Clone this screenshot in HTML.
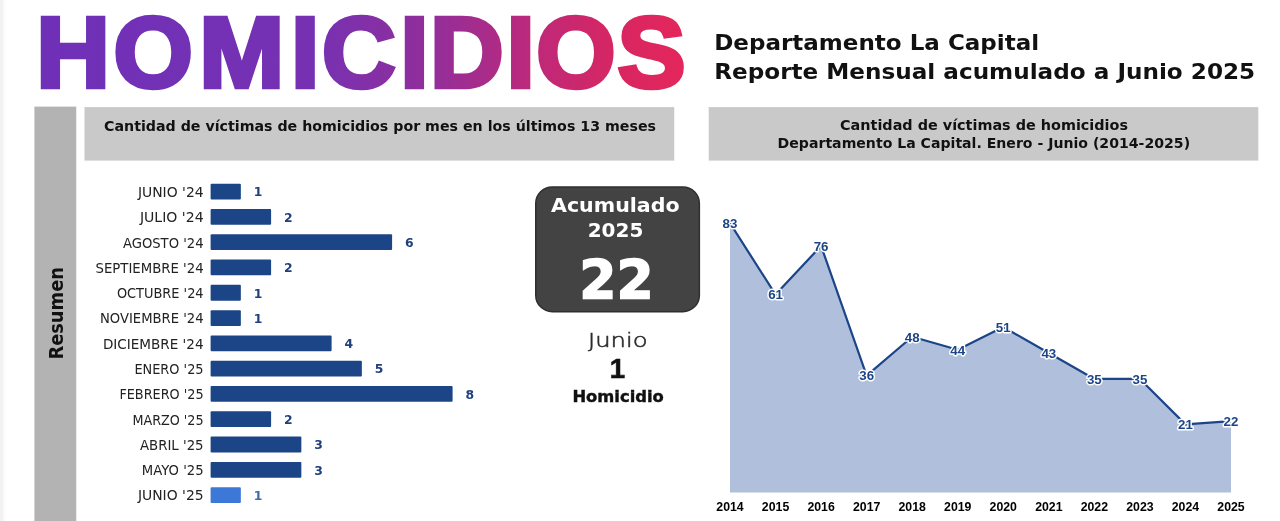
<!DOCTYPE html>
<html lang="es">
<head>
<meta charset="utf-8">
<title>Homicidios - Departamento La Capital - Reporte Mensual acumulado a Junio 2025</title>
<style>
html,body{margin:0;padding:0;background:#fff;}
body{width:1280px;height:521px;overflow:hidden;position:relative;font-family:"Liberation Sans",sans-serif;}
svg{position:absolute;left:0;top:0;display:block;}
text{white-space:pre;}
.mb{font-family:"DejaVu Sans", "Liberation Sans", sans-serif;font-weight:bold;}
.ls{font-family:"Liberation Sans", sans-serif;}
</style>
</head>
<body>
<svg width="1280" height="521" viewBox="0 0 1280 521">
<defs>
<linearGradient id="tg" gradientUnits="userSpaceOnUse" x1="39" y1="0" x2="683" y2="0">
<stop offset="0" stop-color="#6f30b8"/>
<stop offset="0.42" stop-color="#7631b2"/>
<stop offset="0.60" stop-color="#932e9a"/>
<stop offset="0.75" stop-color="#bd297a"/>
<stop offset="0.88" stop-color="#d82662"/>
<stop offset="1" stop-color="#e6275a"/>
</linearGradient>
</defs>

<rect x="0" y="0" width="1280" height="521" fill="#ffffff"/>
<rect x="0" y="0" width="3.4" height="521" fill="#f2f2f2"/>
<rect x="3.4" y="0" width="2" height="521" fill="#fafafa"/>
<rect x="34.4" y="106.6" width="41.85" height="415" fill="#b3b3b3"/>
<rect x="84.5" y="107.1" width="589.75" height="53.5" fill="#c9c9c9"/>
<rect x="708.7" y="107.1" width="549.6" height="53.5" fill="#c9c9c9"/>
<text class="ls" transform="scale(1.02,1)" x="35.49 111.27 195.29 285.29 315.78 392.45 421.57 496.57 525.78 605.49" y="87.35" font-size="100" font-weight="bold" fill="url(#tg)" stroke="url(#tg)" stroke-width="4.5" stroke-linejoin="miter">HOMICIDIOS</text>
<text class="mb" x="714.2" y="50" font-size="21.9" fill="#111" textLength="325" lengthAdjust="spacingAndGlyphs">Departamento La Capital</text>
<text class="mb" x="714.2" y="79.4" font-size="21.9" fill="#111" textLength="541" lengthAdjust="spacingAndGlyphs">Reporte Mensual acumulado a Junio 2025</text>
<text class="mb" x="104" y="131.2" font-size="13.65" fill="#111" textLength="552" lengthAdjust="spacingAndGlyphs">Cantidad de víctimas de homicidios por mes en los últimos 13 meses</text>
<text class="mb" x="840" y="130.2" font-size="13.65" fill="#111" textLength="288" lengthAdjust="spacingAndGlyphs">Cantidad de víctimas de homicidios</text>
<text class="mb" x="777.6" y="148.3" font-size="13.65" fill="#111" textLength="412.5" lengthAdjust="spacingAndGlyphs">Departamento La Capital. Enero - Junio (2014-2025)</text>
<text class="mb" transform="translate(62.9,359.6) rotate(-90)" x="0" y="0" font-size="18.6" fill="#111" textLength="92.6" lengthAdjust="spacingAndGlyphs">Resumen</text>
<g>
<text x="137.90" y="196.95" font-family="DejaVu Sans, Liberation Sans, sans-serif" font-size="13.3" fill="#222" textLength="65.7" lengthAdjust="spacingAndGlyphs">JUNIO '24</text>
<rect x="210.6" y="183.70" width="30.25" height="15.8" rx="1" fill="#1c4587"/>
<text class="mb" x="258.15" y="196.40" font-size="12.4" fill="#1f3f7d" text-anchor="middle">1</text>
<text x="139.90" y="222.24" font-family="DejaVu Sans, Liberation Sans, sans-serif" font-size="13.3" fill="#222" textLength="63.7" lengthAdjust="spacingAndGlyphs">JULIO '24</text>
<rect x="210.6" y="208.99" width="60.50" height="15.8" rx="1" fill="#1c4587"/>
<text class="mb" x="288.40" y="221.69" font-size="12.4" fill="#1f3f7d" text-anchor="middle">2</text>
<text x="122.90" y="247.53" font-family="DejaVu Sans, Liberation Sans, sans-serif" font-size="13.3" fill="#222" textLength="80.7" lengthAdjust="spacingAndGlyphs">AGOSTO '24</text>
<rect x="210.6" y="234.28" width="181.50" height="15.8" rx="1" fill="#1c4587"/>
<text class="mb" x="409.40" y="246.98" font-size="12.4" fill="#1f3f7d" text-anchor="middle">6</text>
<text x="95.50" y="272.82" font-family="DejaVu Sans, Liberation Sans, sans-serif" font-size="13.3" fill="#222" textLength="108.1" lengthAdjust="spacingAndGlyphs">SEPTIEMBRE '24</text>
<rect x="210.6" y="259.57" width="60.50" height="15.8" rx="1" fill="#1c4587"/>
<text class="mb" x="288.40" y="272.27" font-size="12.4" fill="#1f3f7d" text-anchor="middle">2</text>
<text x="116.90" y="298.11" font-family="DejaVu Sans, Liberation Sans, sans-serif" font-size="13.3" fill="#222" textLength="86.7" lengthAdjust="spacingAndGlyphs">OCTUBRE '24</text>
<rect x="210.6" y="284.86" width="30.25" height="15.8" rx="1" fill="#1c4587"/>
<text class="mb" x="258.15" y="297.56" font-size="12.4" fill="#1f3f7d" text-anchor="middle">1</text>
<text x="100.00" y="323.40" font-family="DejaVu Sans, Liberation Sans, sans-serif" font-size="13.3" fill="#222" textLength="103.6" lengthAdjust="spacingAndGlyphs">NOVIEMBRE '24</text>
<rect x="210.6" y="310.15" width="30.25" height="15.8" rx="1" fill="#1c4587"/>
<text class="mb" x="258.15" y="322.85" font-size="12.4" fill="#1f3f7d" text-anchor="middle">1</text>
<text x="102.90" y="348.69" font-family="DejaVu Sans, Liberation Sans, sans-serif" font-size="13.3" fill="#222" textLength="100.7" lengthAdjust="spacingAndGlyphs">DICIEMBRE '24</text>
<rect x="210.6" y="335.44" width="121.00" height="15.8" rx="1" fill="#1c4587"/>
<text class="mb" x="348.90" y="348.14" font-size="12.4" fill="#1f3f7d" text-anchor="middle">4</text>
<text x="134.40" y="373.98" font-family="DejaVu Sans, Liberation Sans, sans-serif" font-size="13.3" fill="#222" textLength="69.2" lengthAdjust="spacingAndGlyphs">ENERO '25</text>
<rect x="210.6" y="360.73" width="151.25" height="15.8" rx="1" fill="#1c4587"/>
<text class="mb" x="379.15" y="373.43" font-size="12.4" fill="#1f3f7d" text-anchor="middle">5</text>
<text x="119.40" y="399.27" font-family="DejaVu Sans, Liberation Sans, sans-serif" font-size="13.3" fill="#222" textLength="84.2" lengthAdjust="spacingAndGlyphs">FEBRERO '25</text>
<rect x="210.6" y="386.02" width="242.00" height="15.8" rx="1" fill="#1c4587"/>
<text class="mb" x="469.90" y="398.72" font-size="12.4" fill="#1f3f7d" text-anchor="middle">8</text>
<text x="132.40" y="424.56" font-family="DejaVu Sans, Liberation Sans, sans-serif" font-size="13.3" fill="#222" textLength="71.2" lengthAdjust="spacingAndGlyphs">MARZO '25</text>
<rect x="210.6" y="411.31" width="60.50" height="15.8" rx="1" fill="#1c4587"/>
<text class="mb" x="288.40" y="424.01" font-size="12.4" fill="#1f3f7d" text-anchor="middle">2</text>
<text x="139.90" y="449.85" font-family="DejaVu Sans, Liberation Sans, sans-serif" font-size="13.3" fill="#222" textLength="63.7" lengthAdjust="spacingAndGlyphs">ABRIL '25</text>
<rect x="210.6" y="436.60" width="90.75" height="15.8" rx="1" fill="#1c4587"/>
<text class="mb" x="318.65" y="449.30" font-size="12.4" fill="#1f3f7d" text-anchor="middle">3</text>
<text x="141.80" y="475.14" font-family="DejaVu Sans, Liberation Sans, sans-serif" font-size="13.3" fill="#222" textLength="61.8" lengthAdjust="spacingAndGlyphs">MAYO '25</text>
<rect x="210.6" y="461.89" width="90.75" height="15.8" rx="1" fill="#1c4587"/>
<text class="mb" x="318.65" y="474.59" font-size="12.4" fill="#1f3f7d" text-anchor="middle">3</text>
<text x="137.90" y="500.43" font-family="DejaVu Sans, Liberation Sans, sans-serif" font-size="13.3" fill="#222" textLength="65.7" lengthAdjust="spacingAndGlyphs">JUNIO '25</text>
<rect x="210.6" y="487.18" width="30.25" height="15.8" rx="1" fill="#3c78d8"/>
<text class="mb" x="258.15" y="499.88" font-size="12.4" fill="#4068b0" text-anchor="middle">1</text>
</g>
<rect x="535.75" y="186.95" width="163.6" height="124.7" rx="16.5" ry="16.5" fill="#434343" stroke="#2f2f2f" stroke-width="1.5"/>
<text class="mb" x="551" y="211.7" font-size="19.8" fill="#fff" textLength="128.6" lengthAdjust="spacingAndGlyphs">Acumulado</text>
<text class="mb" x="587.7" y="236.8" font-size="19.4" fill="#fff" textLength="55.6" lengthAdjust="spacingAndGlyphs">2025</text>
<text class="mb" x="579.2" y="297.6" font-size="54" fill="#fff" stroke="#fff" stroke-width="1.5" textLength="74.6" lengthAdjust="spacingAndGlyphs">22</text>
<text x="588" y="346.7" font-family="DejaVu Sans, Liberation Sans, sans-serif" font-weight="200" font-size="20.3" fill="#2b2b2b" stroke="#2b2b2b" stroke-width="0.55" textLength="59.5" lengthAdjust="spacingAndGlyphs">Junio</text>
<text class="ls" x="617.4" y="378.3" font-size="27.6" font-weight="bold" fill="#111" stroke="#111" stroke-width="0.6" text-anchor="middle">1</text>
<text class="mb" x="572.4" y="401.7" font-size="15.5" fill="#111" stroke="#111" stroke-width="0.4" textLength="91.4" lengthAdjust="spacingAndGlyphs">Homicidio</text>
<path d="M730.00,492.50 L730.00,223.16 L775.55,294.56 L821.09,245.88 L866.64,375.68 L912.18,336.74 L957.73,349.72 L1003.27,327.00 L1048.82,352.97 L1094.36,378.93 L1139.91,378.93 L1185.45,424.36 L1231.00,421.11 L1231.00,492.50 Z" fill="#b0c0dc"/>
<polyline points="730.00,223.16 775.55,294.56 821.09,245.88 866.64,375.68 912.18,336.74 957.73,349.72 1003.27,327.00 1048.82,352.97 1094.36,378.93 1139.91,378.93 1185.45,424.36 1231.00,421.11" fill="none" stroke="#1c4587" stroke-width="2.2" stroke-linejoin="round"/>
<text class="ls" x="730.00" y="227.96" font-size="13.3" font-weight="bold" fill="#1c4587" stroke="#ffffff" stroke-width="2.8" stroke-linejoin="round" paint-order="stroke" text-anchor="middle">83</text>
<text class="ls" x="775.55" y="299.36" font-size="13.3" font-weight="bold" fill="#1c4587" stroke="#ffffff" stroke-width="2.8" stroke-linejoin="round" paint-order="stroke" text-anchor="middle">61</text>
<text class="ls" x="821.09" y="250.68" font-size="13.3" font-weight="bold" fill="#1c4587" stroke="#ffffff" stroke-width="2.8" stroke-linejoin="round" paint-order="stroke" text-anchor="middle">76</text>
<text class="ls" x="866.64" y="380.48" font-size="13.3" font-weight="bold" fill="#1c4587" stroke="#ffffff" stroke-width="2.8" stroke-linejoin="round" paint-order="stroke" text-anchor="middle">36</text>
<text class="ls" x="912.18" y="341.54" font-size="13.3" font-weight="bold" fill="#1c4587" stroke="#ffffff" stroke-width="2.8" stroke-linejoin="round" paint-order="stroke" text-anchor="middle">48</text>
<text class="ls" x="957.73" y="354.52" font-size="13.3" font-weight="bold" fill="#1c4587" stroke="#ffffff" stroke-width="2.8" stroke-linejoin="round" paint-order="stroke" text-anchor="middle">44</text>
<text class="ls" x="1003.27" y="331.81" font-size="13.3" font-weight="bold" fill="#1c4587" stroke="#ffffff" stroke-width="2.8" stroke-linejoin="round" paint-order="stroke" text-anchor="middle">51</text>
<text class="ls" x="1048.82" y="357.77" font-size="13.3" font-weight="bold" fill="#1c4587" stroke="#ffffff" stroke-width="2.8" stroke-linejoin="round" paint-order="stroke" text-anchor="middle">43</text>
<text class="ls" x="1094.36" y="383.73" font-size="13.3" font-weight="bold" fill="#1c4587" stroke="#ffffff" stroke-width="2.8" stroke-linejoin="round" paint-order="stroke" text-anchor="middle">35</text>
<text class="ls" x="1139.91" y="383.73" font-size="13.3" font-weight="bold" fill="#1c4587" stroke="#ffffff" stroke-width="2.8" stroke-linejoin="round" paint-order="stroke" text-anchor="middle">35</text>
<text class="ls" x="1185.45" y="429.16" font-size="13.3" font-weight="bold" fill="#1c4587" stroke="#ffffff" stroke-width="2.8" stroke-linejoin="round" paint-order="stroke" text-anchor="middle">21</text>
<text class="ls" x="1231.00" y="425.91" font-size="13.3" font-weight="bold" fill="#1c4587" stroke="#ffffff" stroke-width="2.8" stroke-linejoin="round" paint-order="stroke" text-anchor="middle">22</text>
<text class="ls" x="730.00" y="511" font-size="12.3" font-weight="bold" fill="#000" text-anchor="middle">2014</text>
<text class="ls" x="775.55" y="511" font-size="12.3" font-weight="bold" fill="#000" text-anchor="middle">2015</text>
<text class="ls" x="821.09" y="511" font-size="12.3" font-weight="bold" fill="#000" text-anchor="middle">2016</text>
<text class="ls" x="866.64" y="511" font-size="12.3" font-weight="bold" fill="#000" text-anchor="middle">2017</text>
<text class="ls" x="912.18" y="511" font-size="12.3" font-weight="bold" fill="#000" text-anchor="middle">2018</text>
<text class="ls" x="957.73" y="511" font-size="12.3" font-weight="bold" fill="#000" text-anchor="middle">2019</text>
<text class="ls" x="1003.27" y="511" font-size="12.3" font-weight="bold" fill="#000" text-anchor="middle">2020</text>
<text class="ls" x="1048.82" y="511" font-size="12.3" font-weight="bold" fill="#000" text-anchor="middle">2021</text>
<text class="ls" x="1094.36" y="511" font-size="12.3" font-weight="bold" fill="#000" text-anchor="middle">2022</text>
<text class="ls" x="1139.91" y="511" font-size="12.3" font-weight="bold" fill="#000" text-anchor="middle">2023</text>
<text class="ls" x="1185.45" y="511" font-size="12.3" font-weight="bold" fill="#000" text-anchor="middle">2024</text>
<text class="ls" x="1231.00" y="511" font-size="12.3" font-weight="bold" fill="#000" text-anchor="middle">2025</text>
</svg>
</body>
</html>
